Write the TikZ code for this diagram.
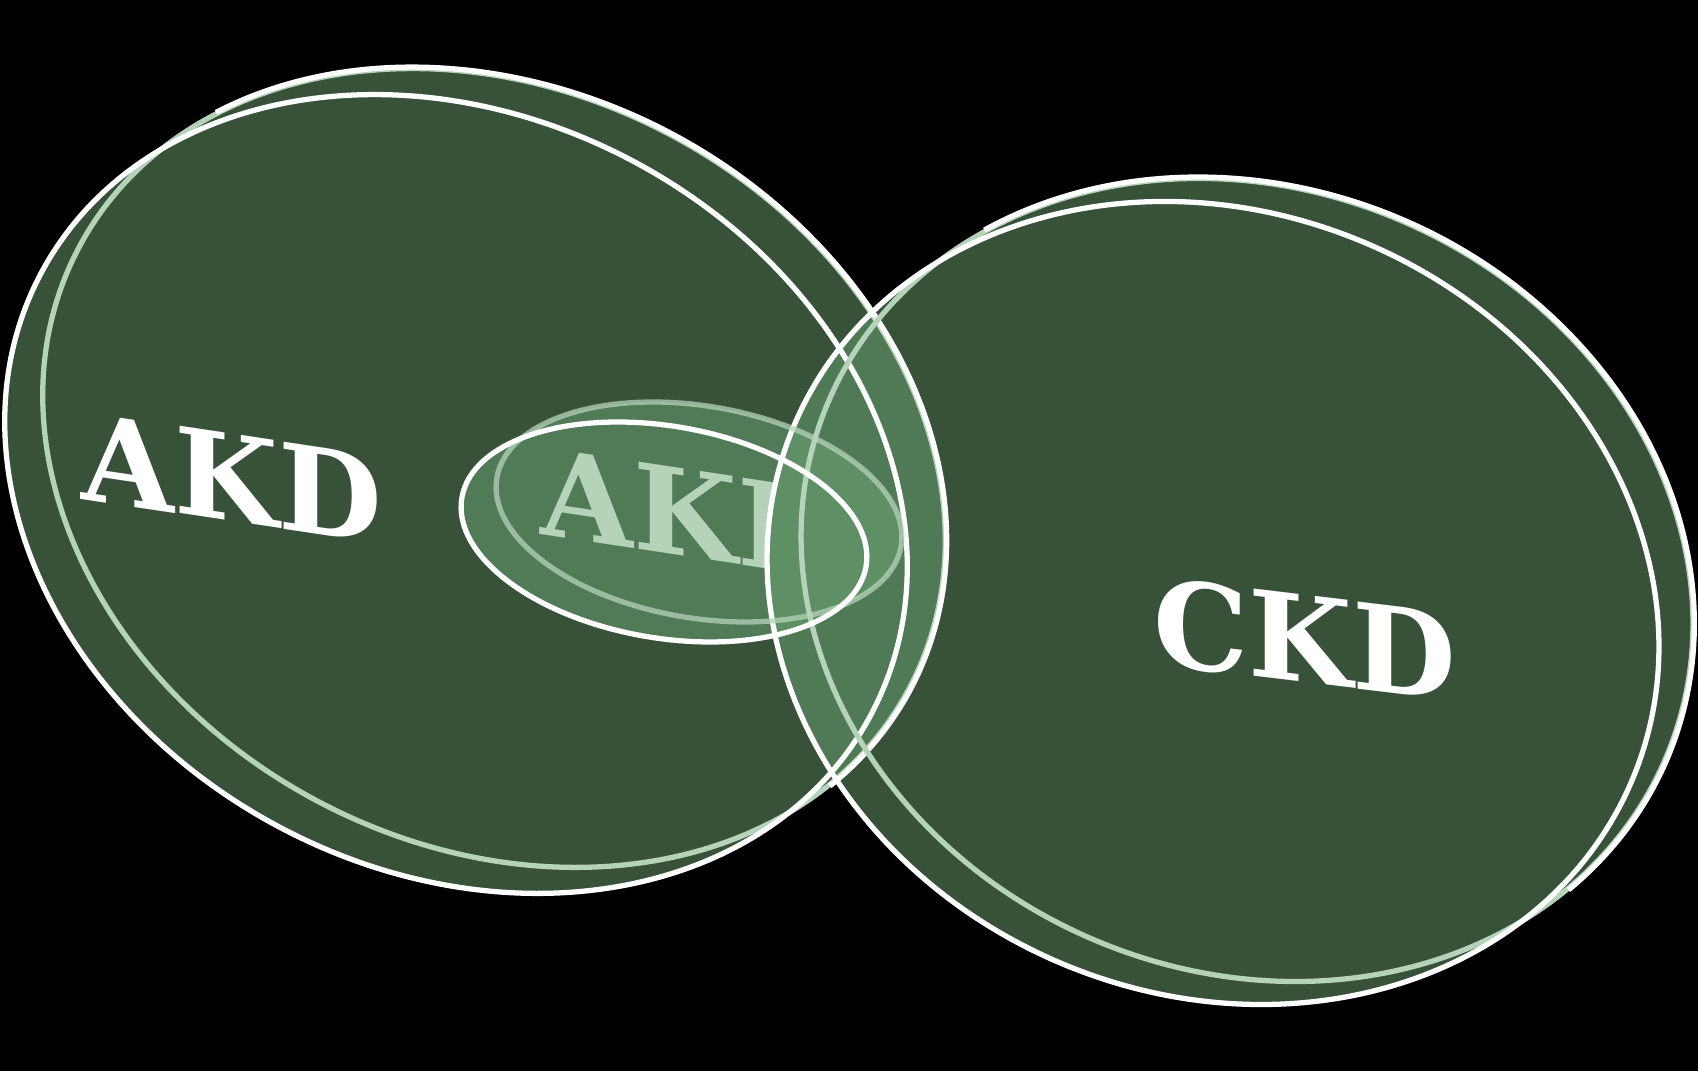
\documentclass[tikz,border=0pt]{standalone}
\usepackage{fontspec}
\usepackage{xcolor}
\usepackage{tikz}
\newfontfamily\slabfont{DejaVu Serif}
\definecolor{kidneygreen}{RGB}{56,82,58}
\definecolor{overlapgreen}{RGB}{80,122,85}
\definecolor{akifill}{RGB}{81,122,86}
\definecolor{akioverlap}{RGB}{95,144,101}
\definecolor{mintgreen}{RGB}{181,211,185}

\begin{document}
\begin{tikzpicture}[x=0.01cm, y=0.01cm,
	rim/.style={line width=1.5pt, white},
	mintrim/.style={line width=1.5pt, mintgreen},
	disease/.style={font=\slabfont\bfseries\fontsize{34}{40}\selectfont, yslant=-0.15, inner sep=0pt}]
	\fill[black] (0,0) rectangle (1698,1071);
	\useasboundingbox (0,0) rectangle (1698,1071);

	\coordinate (akdw) at (456,577);
	\coordinate (akdg) at (494,603);
	\coordinate (ckdw) at (1213,468);
	\coordinate (ckdg) at (1247,491);
	\coordinate (akiw) at (664,539);
	\coordinate (akig) at (699,559);

	\fill[kidneygreen, rotate around={-28:(akdw)}] (akdw) ellipse [x radius=470, y radius=377];
	\fill[kidneygreen, rotate around={-28:(akdg)}] (akdg) ellipse [x radius=470, y radius=377];
	\fill[kidneygreen, rotate around={-23:(ckdw)}] (ckdw) ellipse [x radius=455, y radius=391];
	\fill[kidneygreen, rotate around={-23:(ckdg)}] (ckdg) ellipse [x radius=455, y radius=391];

	\fill[akifill, rotate around={-9.6:(akiw)}] (akiw) ellipse [x radius=205, y radius=106];
	\fill[akifill, rotate around={-9.6:(akig)}] (akig) ellipse [x radius=205, y radius=106];

	\node[disease, text=white] (akd) at (232,593) {AKD};
	\node[disease, text=white, yslant=0.03] (ckd) at (1305,432) {CKD};
	\node[disease, text=mintgreen] (aki) at (667,561) {AKI};

	\begin{scope}
		\clip[rotate around={-28:(akdg)}] (akdg) ellipse [x radius=470, y radius=377];
		\fill[overlapgreen, rotate around={-23:(ckdw)}] (ckdw) ellipse [x radius=455, y radius=391];
		\clip[rotate around={-23:(ckdw)}] (ckdw) ellipse [x radius=455, y radius=391];
		\fill[akioverlap, rotate around={-9.6:(akiw)}] (akiw) ellipse [x radius=205, y radius=106];
		\fill[akioverlap, rotate around={-9.6:(akig)}] (akig) ellipse [x radius=205, y radius=106];
	\end{scope}

	\draw[mintrim, rotate around={-28:(akdg)}] (akdg) ellipse [x radius=470, y radius=377];
	\draw[rim, rotate around={-28:(akdw)}] (akdw) ellipse [x radius=470, y radius=377];
	\draw[rim, rotate around={-28:(akdg)}] (akdg) ++(-19:471.5 and 378.5) arc[start angle=-19, end angle=151, x radius=471.5, y radius=378.5];

	\draw[mintrim, rotate around={-23:(ckdg)}] (ckdg) ellipse [x radius=455, y radius=391];
	\draw[rim, rotate around={-23:(ckdw)}] (ckdw) ellipse [x radius=455, y radius=391];
	\draw[rim, rotate around={-23:(ckdg)}] (ckdg) ++(-24:456.5 and 392.5) arc[start angle=-24, end angle=146, x radius=456.5, y radius=392.5];

	\draw[mintrim, draw opacity=0.75, rotate around={-9.6:(akig)}] (akig) ellipse [x radius=205, y radius=106];
	\draw[rim, rotate around={-9.6:(akiw)}] (akiw) ellipse [x radius=205, y radius=106];
\end{tikzpicture}
\end{document}
